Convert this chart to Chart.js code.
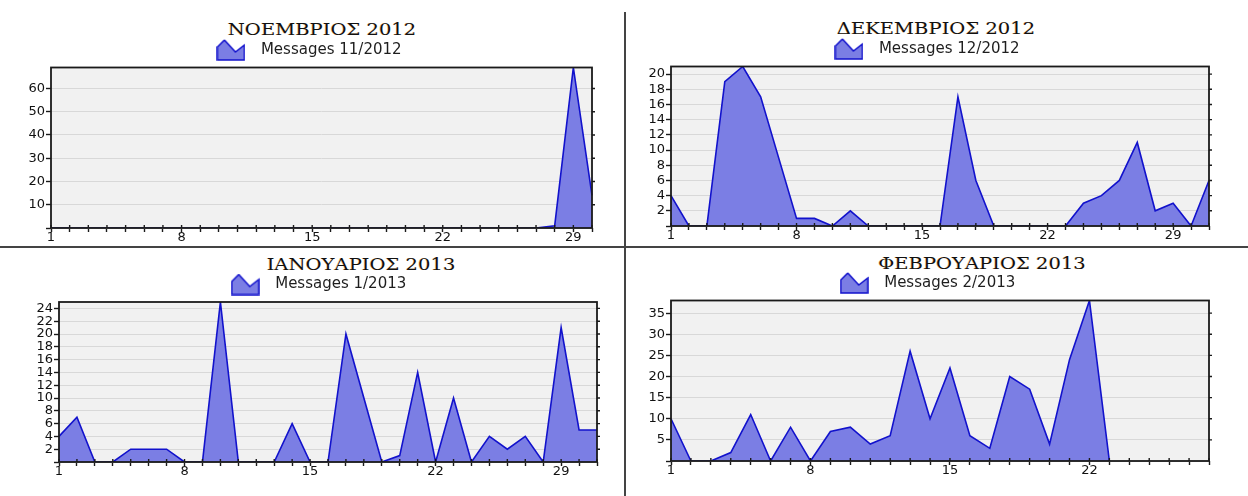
<!DOCTYPE html>
<html>
<head>
<meta charset="utf-8">
<script src="https://cdn.jsdelivr.net/npm/chart.js@4.4.1/dist/chart.umd.min.js"></script>
<style>
  html, body { margin: 0; padding: 0; background: #fff; }
  #page { position: relative; width: 1248px; height: 496px; overflow: hidden; }
  canvas { position: absolute; }
  .ttl {
    position: absolute;
    font-family: 'DejaVu Serif', serif;
    font-size: 17px;
    line-height: 20px;
    color: #111;
    white-space: nowrap;
    transform: translateX(-50%) scaleX(1.15);
    text-shadow: -0.6px 0 0 rgba(235, 150, 40, 0.45);
  }
  .hline { position: absolute; left: 0; top: 246px; width: 1248px; height: 2px; background: #444; }
  .vline { position: absolute; left: 624px; top: 12px; width: 2px; height: 484px; background: #444; }
</style>
</head>
<body>
<div id="page">
  <div class="hline"></div>
  <div class="vline"></div>
  <div class="ttl" id="t0" style="left:322px; top:19px"></div>
  <div class="ttl" id="t1" style="left:936px; top:18px"></div>
  <div class="ttl" id="t2" style="left:361px; top:254px"></div>
  <div class="ttl" id="t3" style="left:982px; top:253px"></div>
  <canvas id="c0" width="620" height="244" style="left:0; top:0"></canvas>
  <canvas id="c1" width="620" height="244" style="left:628px; top:0"></canvas>
  <canvas id="c2" width="620" height="248" style="left:0; top:248px"></canvas>
  <canvas id="c3" width="620" height="248" style="left:628px; top:248px"></canvas>
</div>
<script>
// ---- data (messages per day) ----
const titles = ['ΝΟΕΜΒΡΙΟΣ 2012', 'ΔΕΚΕΜΒΡΙΟΣ 2012', 'ΙΑΝΟΥΑΡΙΟΣ 2013', 'ΦΕΒΡΟΥΑΡΙΟΣ 2013'];
const seriesNames = ['Messages 11/2012', 'Messages 12/2012', 'Messages 1/2013', 'Messages 2/2013'];

const nov2012 = [0, 0, 0, 0, 0, 0, 0, 0, 0, 0, 0, 0, 0, 0, 0, 0, 0, 0, 0, 0,
                 0, 0, 0, 0, 0, 0, 0, 1, 69, 14];
const dec2012 = [4, 0, 0, 19, 21, 17, 9, 1, 1, 0, 2, 0, 0, 0, 0, 0, 17, 6, 0, 0,
                 0, 0, 0, 3, 4, 6, 11, 2, 3, 0, 6];
const jan2013 = [4, 7, 0, 0, 2, 2, 2, 0, 0, 25, 0, 0, 0, 6, 0, 0, 20, 10, 0, 1,
                 14, 0, 10, 0, 4, 2, 4, 0, 21, 5, 5];
const feb2013 = [10, 0, 0, 2, 11, 0, 8, 0, 7, 8, 4, 6, 26, 10, 22, 6, 3, 20, 17, 4,
                 24, 38, 0, null, null, null, null, null];

const xTickDays = ['1', '8', '15', '22', '29'];

function dayLabels(n) {
    return Array.from({ length: n }, (_, i) => String(i + 1));
}

// legend glyph (little filled area shape)
function makeLegendIcon() {
    const c = document.createElement('canvas');
    c.width = 29;
    c.height = 22;
    const g = c.getContext('2d');
    g.beginPath();
    g.moveTo(1, 21);
    g.lineTo(1, 8);
    g.lineTo(8, 1);
    g.lineTo(19, 13);
    g.lineTo(28, 6);
    g.lineTo(28, 21);
    g.closePath();
    g.fillStyle = '#7b7ee4';
    g.fill();
    g.lineWidth = 1.5;
    g.strokeStyle = '#1212cc';
    g.stroke();
    return c;
}
const legendIcon = makeLegendIcon();

// grey plot background, black frame, inner x ticks and right-side y ticks
const plotFrame = {
    id: 'plotFrame',
    beforeDraw(chart) {
        const { ctx, chartArea: a } = chart;
        ctx.save();
        ctx.fillStyle = '#f1f1f1';
        ctx.fillRect(a.left, a.top, a.right - a.left, a.bottom - a.top);
        ctx.restore();
    },
    afterDatasetsDraw(chart) {
        const { ctx, chartArea: a } = chart;
        const xs = chart.scales.x;
        const ys = chart.scales.y;
        ctx.save();
        ctx.lineWidth = 1.8;
        ctx.strokeStyle = '#1a1a1a';
        ctx.strokeRect(a.left, a.top, a.right - a.left, a.bottom - a.top);

        ctx.lineWidth = 1.4;
        ctx.beginPath();
        xs.ticks.forEach((t, i) => {
            const px = xs.getPixelForTick(i);
            ctx.moveTo(px, a.bottom - 3);
            ctx.lineTo(px, a.bottom);
        });
        ys.ticks.forEach(t => {
            if (t.value === 0) return;
            const py = ys.getPixelForValue(t.value);
            ctx.moveTo(a.right, py);
            ctx.lineTo(a.right + 3, py);
        });
        ctx.stroke();
        ctx.restore();
    }
};

const tickFont = { family: "'DejaVu Sans', sans-serif", size: 13 };

const panels = [
    { canvas: 'c0', data: nov2012, step: 10, pad: { left: 18, right: 28, top: 39.5, bottom: 0 }, yw: 33, xh: 16 },
    { canvas: 'c1', data: dec2012, step: 2,  pad: { left: 9,  right: 39, top: 38.5, bottom: 0 }, yw: 34, xh: 18 },
    { canvas: 'c2', data: jan2013, step: 2,  pad: { left: 32, right: 23, top: 26,   bottom: 0 }, yw: 27, xh: 34 },
    { canvas: 'c3', data: feb2013, step: 5,  pad: { left: 10, right: 39, top: 24.5, bottom: 0 }, yw: 33, xh: 35 }
];

panels.forEach((p, i) => {
    document.getElementById('t' + i).textContent = titles[i];

    const labels = dayLabels(p.data.length);
    const maxVal = Math.max(...p.data.filter(v => v !== null));

    new Chart(document.getElementById(p.canvas), {
        type: 'line',
        data: {
            labels: labels,
            datasets: [{
                label: seriesNames[i],
                data: p.data,
                fill: 'origin',
                backgroundColor: '#7b7ee4',
                borderColor: '#1212cc',
                borderWidth: 1.6,
                pointRadius: 0,
                tension: 0
            }]
        },
        options: {
            responsive: false,
            animation: false,
            events: [],
            layout: { padding: p.pad },
            plugins: {
                title: { display: false },
                tooltip: { enabled: false },
                legend: {
                    display: true,
                    position: 'top',
                    labels: {
                        usePointStyle: true,
                        pointStyle: legendIcon,
                        pointStyleWidth: 45,
                        padding: 3,
                        color: '#1e1e1e',
                        font: { family: "'DejaVu Sans', sans-serif", size: 15 }
                    }
                }
            },
            scales: {
                x: {
                    type: 'category',
                    offset: false,
                    afterFit: s => { s.height = p.xh; },
                    border: { display: false },
                    grid: {
                        drawOnChartArea: false,
                        drawTicks: true,
                        tickLength: 4,
                        tickWidth: 1.4,
                        tickColor: '#1a1a1a'
                    },
                    ticks: {
                        autoSkip: false,
                        maxRotation: 0,
                        padding: -2,
                        color: '#111',
                        font: tickFont,
                        callback: (v, idx) => xTickDays.includes(labels[idx]) ? labels[idx] : ''
                    }
                },
                y: {
                    min: 0,
                    max: maxVal,
                    afterFit: s => { s.width = p.yw; },
                    border: { display: false },
                    grid: {
                        color: '#d8d8d8',
                        lineWidth: 1,
                        tickLength: 5,
                        tickWidth: 1.4,
                        tickColor: '#1a1a1a'
                    },
                    ticks: {
                        stepSize: p.step,
                        includeBounds: false,
                        autoSkip: false,
                        padding: 1,
                        color: '#111',
                        font: tickFont,
                        callback: v => v === 0 ? '' : v
                    }
                }
            }
        },
        plugins: [plotFrame]
    });
});
</script>
</body>
</html>
